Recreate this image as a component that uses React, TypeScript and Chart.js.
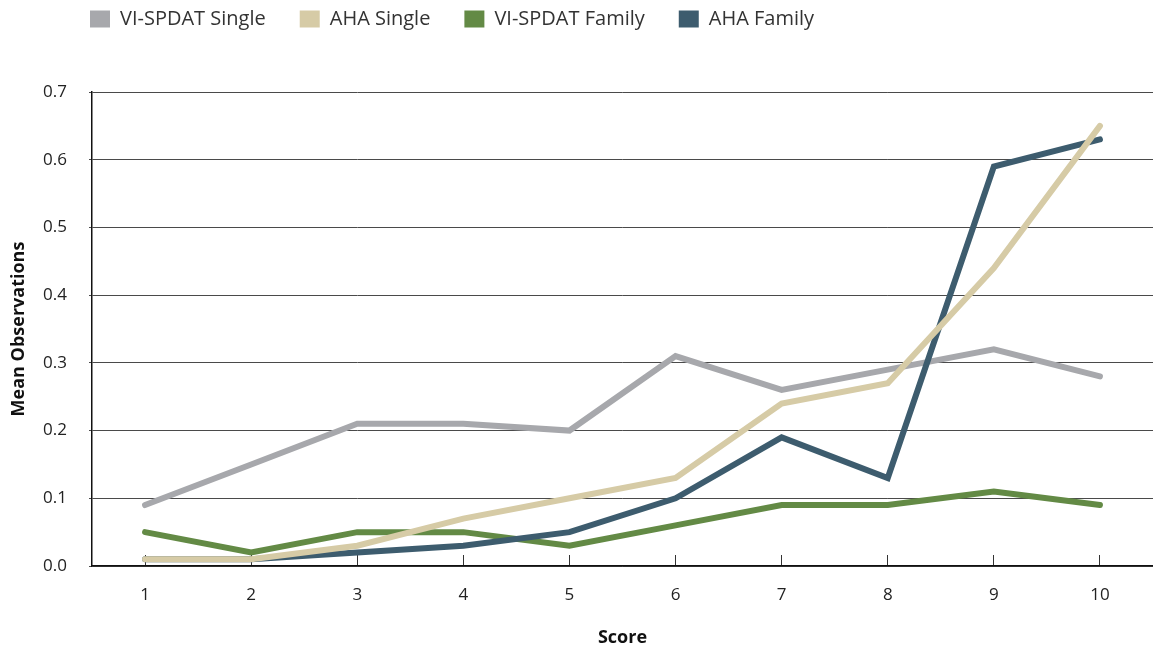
import React, { useEffect, useRef } from "react";
import { Chart, registerables } from "chart.js";

Chart.register(...registerables);

const scores = ["1", "2", "3", "4", "5", "6", "7", "8", "9", "10"];
const viSpdatSingle = [0.09, 0.15, 0.21, 0.21, 0.2, 0.31, 0.26, 0.29, 0.32, 0.28];
const ahaSingle = [0.01, 0.01, 0.03, 0.07, 0.1, 0.13, 0.24, 0.27, 0.44, 0.65];
const viSpdatFamily = [0.05, 0.02, 0.05, 0.05, 0.03, 0.06, 0.09, 0.09, 0.11, 0.09];
const ahaFamily = [0.01, 0.01, 0.02, 0.03, 0.05, 0.1, 0.19, 0.13, 0.59, 0.63];

const seriesLabels = ["VI-SPDAT Single", "AHA Single", "VI-SPDAT Family", "AHA Family"];
const seriesColors = ["#a7a8ac", "#d6cba6", "#638a45", "#3d5c6e"];
const seriesData = [viSpdatSingle, ahaSingle, viSpdatFamily, ahaFamily];
const drawOrder = [3, 0, 2, 1];

const FONT = "'Open Sans', 'DejaVu Sans', sans-serif";
const TEXT = "#222222";

const legendTweak = {
  id: "legendTweak",
  beforeLayout(chart: any) {
    const lg = chart.legend;
    if (lg && !lg.__patched) {
      const orig = lg.fit;
      lg.fit = function () {
        orig.call(this);
        this.height += 28;
      };
      lg.__patched = true;
    }
  },
  afterLayout(chart: any) {
    const lg = chart.legend;
    if (lg) {
      lg.left = 56;
      lg.top = -25;
    }
  },
};

export default function App() {
  const ref = useRef<HTMLCanvasElement | null>(null);

  useEffect(() => {
    if (!ref.current) return;
    const chart = new Chart(ref.current, {
      type: "line",
      data: {
        labels: scores,
        datasets: seriesLabels.map((label, i) => ({
          label,
          data: seriesData[i],
          borderColor: seriesColors[i],
          backgroundColor: seriesColors[i],
          borderWidth: 6,
          borderCapStyle: "round",
          borderJoinStyle: "miter",
          pointRadius: 0,
          pointHoverRadius: 0,
          tension: 0,
          fill: false,
          order: drawOrder[i],
        })),
      },
      options: {
        responsive: true,
        maintainAspectRatio: false,
        animation: false,
        layout: { padding: 0 },
        plugins: {
          tooltip: { enabled: false },
          legend: {
            display: true,
            position: "top",
            align: "start",
            labels: {
              boxWidth: 20,
              boxHeight: 17,
              padding: 34,
              color: "#333333",
              font: { family: FONT, size: 20 },
              sort: (a: any, b: any) => a.datasetIndex - b.datasetIndex,
              generateLabels: (c: any) =>
                Chart.defaults.plugins.legend.labels.generateLabels(c).map((it: any) => ({
                  ...it,
                  lineWidth: 0,
                  strokeStyle: "transparent",
                })),
            },
          },
        },
        scales: {
          x: {
            offset: true,
            afterFit: (s: any) => {
              s.height = 83;
            },
            border: { display: true, color: "#111111", width: 1.5 },
            grid: {
              display: true,
              drawOnChartArea: false,
              drawTicks: true,
              tickLength: -11,
              color: "#333333",
              offset: false,
            },
            ticks: {
              color: TEXT,
              font: { family: FONT, size: 17 },
              padding: 30,
              maxRotation: 0,
            },
            title: {
              display: true,
              text: "Score",
              color: "#111111",
              font: { family: FONT, size: 18, weight: "bold" },
              padding: { top: 0, bottom: 0 },
            },
          },
          y: {
            min: 0,
            max: 0.7,
            afterFit: (s: any) => {
              s.width = 92;
            },
            border: { display: true, color: "#111111", width: 1.5 },
            grid: {
              color: "#4a4a4a",
              lineWidth: 1,
              drawTicks: true,
              tickLength: 3,
            },
            ticks: {
              stepSize: 0.1,
              color: TEXT,
              font: { family: FONT, size: 17 },
              padding: 22,
              callback: (v: any) => Number(v).toFixed(1),
            },
            title: {
              display: true,
              text: "Mean Observations",
              color: "#111111",
              font: { family: FONT, size: 18, weight: "bold" },
              padding: { top: 8, bottom: 8 },
            },
          },
        },
      },
      plugins: [legendTweak],
    } as any);
    return () => chart.destroy();
  }, []);

  return (
    <div style={{ position: "absolute", left: 0, top: 0, width: 1153, height: 649 }}>
      <canvas ref={ref} />
    </div>
  );
}
